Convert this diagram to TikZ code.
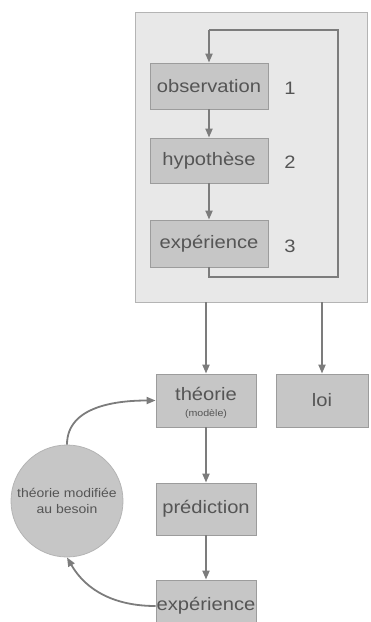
\documentclass[tikz,border=0pt]{standalone}
\usepackage{fontspec}
\setmainfont{Liberation Sans}[FakeStretch=1.12]
\usetikzlibrary{arrows.meta}
\definecolor{panel}{HTML}{E8E8E8}
\definecolor{panelline}{HTML}{B4B4B4}
\definecolor{boxfill}{HTML}{C6C6C6}
\definecolor{boxline}{HTML}{9C9C9C}
\definecolor{ink}{HTML}{555555}
\definecolor{wire}{HTML}{7C7C7C}
\begin{document}
\begin{tikzpicture}[x=1pt,y=-1pt,
  stepbox/.style={draw=boxline, fill=boxfill, line width=0.8pt, inner sep=0pt,
    text=ink, font=\fontsize{18}{20}\selectfont},
  numlabel/.style={text=ink, font=\fontsize{18}{20}\selectfont},
  arr/.style={draw=wire, line width=1.8pt, -{Triangle[length=9pt,width=7pt]}},
  wireline/.style={draw=wire, line width=1.8pt}]
\useasboundingbox (0,0) rectangle (370,622);
\clip (0,0) rectangle (370,622);
% outer panel holding the observation loop
\node[draw=panelline, fill=panel, line width=0.8pt, minimum width=232pt, minimum height=290pt,
  inner sep=0pt] (cadre) at (251,157) {};
% loop steps
\node[stepbox, minimum width=118pt, minimum height=46pt] (obs) at (209,86) {observation};
\node[stepbox, minimum width=118pt, minimum height=45pt] (hyp) at (209,160.5) {hypothèse};
\node[stepbox, minimum width=118pt, minimum height=47pt] (exp) at (209,243.5) {expérience};
\node[numlabel] (n1) at (290,88) {1};
\node[numlabel] (n2) at (290,162) {2};
\node[numlabel] (n3) at (290,246) {3};
\coordinate (lb) at (209,277);
\coordinate (rb) at (338,277);
\coordinate (rt) at (338,30);
\coordinate (lt) at (209,30);
\draw[arr] (obs) -- (hyp);
\draw[arr] (hyp) -- (exp);
\draw[wireline] (exp.south) -- (lb) -- (rb) -- (rt) -- (lt);
\draw[arr] (lt) -- (obs.north);
% results
\node[stepbox, minimum width=100pt, minimum height=53pt] (theo) at (206,400.5) {};
\node[text=ink, font=\fontsize{18}{20}\selectfont] (theot) at (206,394) {théorie};
\node[text=ink, font=\fontsize{9.5}{11}\selectfont] (mod) at (206,414) {(modèle)};
\node[stepbox, minimum width=92pt, minimum height=53pt] (loi) at (322,400.5) {loi};
\node[stepbox, minimum width=100pt, minimum height=52pt] (pred) at (206,509) {prédiction};
\node[stepbox, minimum width=100pt, minimum height=50pt] (exp2) at (206,605) {};
\node[text=ink, font=\fontsize{18}{20}\selectfont] (exp2t) at (206,606) {expérience};
\node[circle, draw=panelline, fill=boxfill, line width=0.8pt, minimum size=112pt, inner sep=0pt,
  text=ink, align=center, font=\fontsize{12.5}{16}\selectfont] (modif) at (67,501)
  {théorie modifiée\\au besoin};
\draw[arr] (cadre.south -| theo.north) -- (theo.north);
\draw[arr] (cadre.south -| loi.north) -- (loi.north);
\draw[arr] (theo) -- (pred);
\draw[arr] (pred) -- (exp2);
\draw[arr] (modif.north) to[out=90,in=180] (theo.west);
\draw[arr] (exp2.west |- exp2t) to[out=180,in=-60] (modif.south);
\end{tikzpicture}
\end{document}
